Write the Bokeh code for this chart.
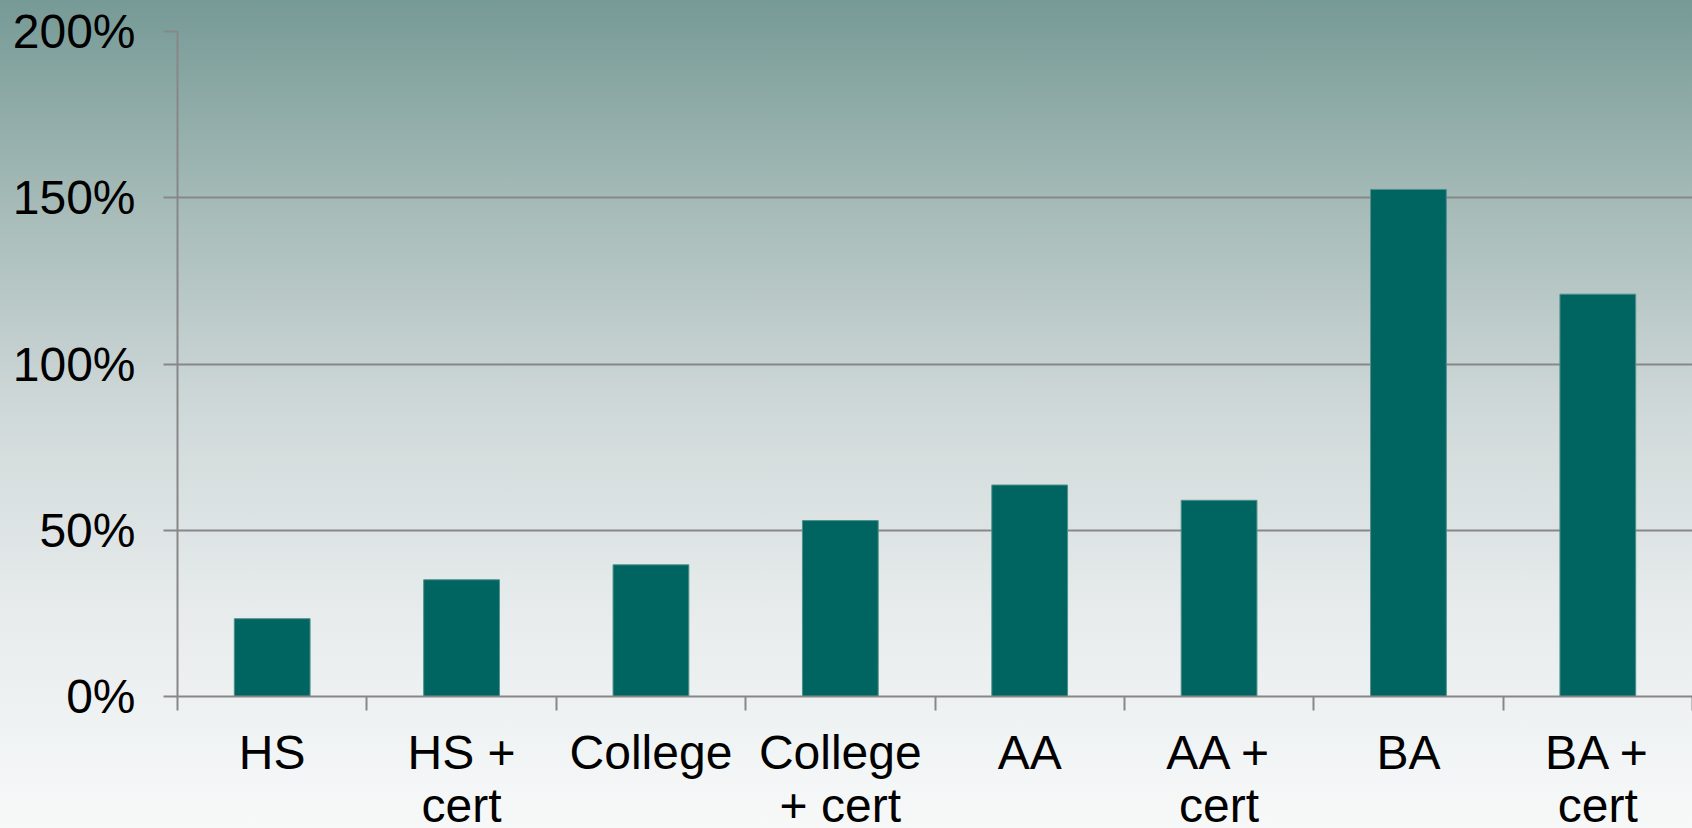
from bokeh.plotting import figure
from bokeh.models import FixedTicker, Range1d, ColumnDataSource
from bokeh.embed import file_html
from bokeh.resources import INLINE

# ---- data ----
categories = ["HS", "HS +\ncert", "College", "College\n+ cert", "AA", "AA +\ncert", "BA", "BA +\ncert"]
values = [23.4, 35.1, 39.6, 52.9, 63.6, 59.0, 152.5, 121.0]
y_ticks = [0, 50, 100, 150, 200]
y_tick_labels = ["0%", "50%", "100%", "150%", "200%"]

# ---- styles ----
BAR = "#006461"
GRID = "#878787"
FONT = "Liberation Sans"
FS = "48px"
XFS = "48px"

x = [i + 0.5 for i in range(len(categories))]
boundaries = list(range(len(categories) + 1))
src = ColumnDataSource(dict(x=x, top=values, cat=categories))

p = figure(frame_width=1515, frame_height=665, output_backend="svg", toolbar_location=None,
           x_range=Range1d(0, len(categories)), y_range=Range1d(0, y_ticks[-1]),
           min_border_left=177, min_border_right=0, min_border_top=31, min_border_bottom=120)
p.background_fill_alpha = 0
p.border_fill_alpha = 0
p.outline_line_color = None

p.vbar(x="x", top="top", bottom=0, width=0.4, source=src,
       fill_color=BAR, line_color="#4f8f8c", line_width=1)

# y axis
yax = p.yaxis[0]
yax.ticker = FixedTicker(ticks=y_ticks, minor_ticks=[])
yax.major_label_overrides = {t: l for t, l in zip(y_ticks, y_tick_labels)}
yax.major_tick_out = 14
yax.major_tick_in = 0
yax.minor_tick_out = 0
yax.minor_tick_in = 0
yax.axis_line_color = GRID
yax.axis_line_width = 2
yax.major_tick_line_color = GRID
yax.major_tick_line_width = 2
yax.major_label_standoff = 28
yax.major_label_text_font = FONT
yax.major_label_text_font_size = FS
yax.major_label_text_color = "black"

# x axis
xax = p.xaxis[0]
xax.ticker = FixedTicker(ticks=x, minor_ticks=boundaries)
xax.major_label_overrides = {xi: c for xi, c in zip(x, categories)}
xax.major_tick_out = 0
xax.major_tick_in = 0
xax.minor_tick_out = 14
xax.minor_tick_in = 0
xax.minor_tick_line_color = GRID
xax.minor_tick_line_width = 2
xax.axis_line_color = GRID
xax.axis_line_width = 2
xax.major_label_standoff = 15
xax.major_label_text_font = FONT
xax.major_label_text_font_size = XFS
xax.major_label_text_color = "black"
xax.major_label_text_line_height = 1.0

p.xgrid.grid_line_color = None
p.ygrid.ticker = FixedTicker(ticks=y_ticks)
p.ygrid.grid_line_color = GRID
p.ygrid.grid_line_width = 2

template = """
{% block preamble %}
<style>
html, body { margin: 0 !important; padding: 0 !important; overflow: hidden; }
html { background: linear-gradient(to bottom, #769a96 0%, #a6bbb8 25%, #d0d9d9 50%, #e8eced 75%, #f7f9f9 100%); }
</style>
{% endblock %}
"""

open("out.html", "w").write(file_html(p, INLINE, title="chart", template=template))
